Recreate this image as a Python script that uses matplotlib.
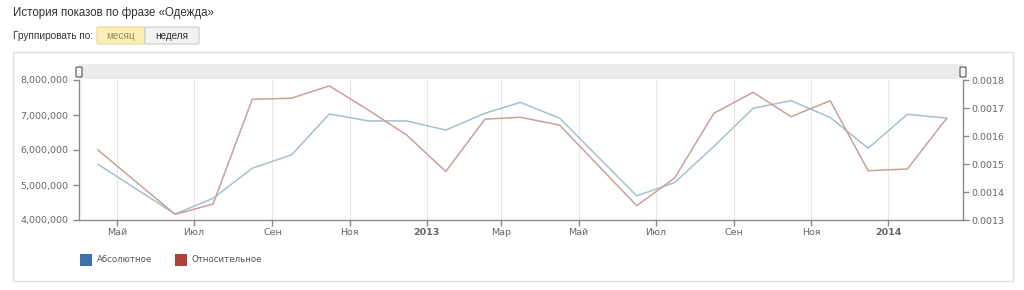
import matplotlib
matplotlib.use("Agg")
import matplotlib.pyplot as plt
from matplotlib.patches import FancyBboxPatch, Rectangle
import pandas as pd

# данные
months = ['2012-04', '2012-06', '2012-07', '2012-08', '2012-09', '2012-10',
          '2012-11', '2012-12', '2013-01', '2013-02', '2013-03', '2013-04',
          '2013-06', '2013-07', '2013-08', '2013-09', '2013-10', '2013-11',
          '2013-12', '2014-01', '2014-02']
absolute = [5.59e6, 4.17e6, 4.62e6, 5.48e6, 5.86e6, 7.03e6,
            6.83e6, 6.83e6, 6.57e6, 7.05e6, 7.36e6, 6.91e6,
            4.69e6, 5.07e6, 6.10e6, 7.19e6, 7.41e6, 6.93e6,
            6.05e6, 7.02e6, 6.91e6]
relative = [0.00155, 0.00132, 0.001357, 0.001731, 0.001735, 0.001779,
            0.001692, 0.001604, 0.001473, 0.00166, 0.001667, 0.001639,
            0.001351, 0.00145, 0.001681, 0.001756, 0.001669, 0.001726,
            0.001476, 0.001482, 0.001663]
tick_months = ['2012-05', '2012-07', '2012-09', '2012-11', '2013-01', '2013-03',
               '2013-05', '2013-07', '2013-09', '2013-11', '2014-01']
tick_labels = ['Май', 'Июл', 'Сен', 'Ноя', '2013', 'Мар',
               'Май', 'Июл', 'Сен', 'Ноя', '2014']
left_ticks = [4e6, 5e6, 6e6, 7e6, 8e6]
right_ticks = [0.0013, 0.0014, 0.0015, 0.0016, 0.0017, 0.0018]
legend_names = ['Абсолютное', 'Относительное']

x = pd.to_datetime(months) + pd.Timedelta(days=15)
ticks = pd.to_datetime(tick_months)

fig = plt.figure(figsize=(10.24, 2.9), dpi=100)
W, H = 1024, 290

def fx(px):
    return px / W

def fy(py):
    return 1 - py / H

# заголовок и кнопки
fig.text(fx(13), fy(13), 'История показов по фразе «Одежда»', fontsize=8.3,
         color='#333333', family='Liberation Sans', va='center')
fig.text(fx(13), fy(36), 'Группировать по:', fontsize=7.2,
         color='#333333', family='Liberation Sans', va='center')
fig.patches.append(FancyBboxPatch((fx(97), fy(44)), fx(48), 17 / H,
                                  boxstyle='round,pad=0,rounding_size=0.003',
                                  transform=fig.transFigure, fc='#fdefb5',
                                  ec='#e8d89a', lw=0.8))
fig.patches.append(FancyBboxPatch((fx(145), fy(44)), fx(54), 17 / H,
                                  boxstyle='round,pad=0,rounding_size=0.003',
                                  transform=fig.transFigure, fc='#f2f2f2',
                                  ec='#cccccc', lw=0.8))
fig.text(fx(121), fy(36), 'месяц', fontsize=7.2, color='#9b8a55',
         family='Liberation Sans', ha='center', va='center')
fig.text(fx(172), fy(36), 'неделя', fontsize=7.2, color='#333333',
         family='Liberation Sans', ha='center', va='center')

# рамка графика
fig.patches.append(Rectangle((fx(13), fy(281)), fx(1000), 229 / H,
                             transform=fig.transFigure, fc='white',
                             ec='#e0e0e0', lw=1.0, zorder=-5))

ax = fig.add_axes([fx(79), fy(220), fx(884), 140 / H])
ax2 = ax.twinx()

# полоса прокрутки
fig.patches.append(Rectangle((fx(79), fy(79)), fx(884), 15 / H,
                             transform=fig.transFigure, fc='#ebebeb',
                             ec='none', zorder=1))
for hx in (79, 963):
    fig.patches.append(FancyBboxPatch((fx(hx - 3), fy(77)), fx(6), 10 / H,
                                      boxstyle='round,pad=0,rounding_size=0.002',
                                      transform=fig.transFigure, fc='#f4f4f4',
                                      ec='#555555', lw=0.8, zorder=2))

for t in ticks:
    ax.axvline(t, color='#e6e6e6', lw=0.8, zorder=0)

ax.plot(x, absolute, color='#a3c1d0', lw=1.1, zorder=3)
ax2.plot(x, relative, color='#c9a19c', lw=1.1, zorder=3)

ax.set_xlim(pd.Timestamp('2012-04-01'), pd.Timestamp('2014-03-01'))
ax.set_ylim(4e6, 8e6)
ax2.set_ylim(0.0013, 0.0018)

ax.set_xticks(ticks)
ax.set_xticklabels(tick_labels)
for lab in ax.get_xticklabels():
    if lab.get_text() in ('2013', '2014'):
        lab.set_fontweight('bold')
        lab.set_color('#333333')
ax.set_yticks(left_ticks)
ax.set_yticklabels([f'{v:,.0f}' for v in left_ticks])
ax2.set_yticks(right_ticks)
ax2.set_yticklabels([f'{v:.4f}' for v in right_ticks])

for a in (ax, ax2):
    a.set_facecolor('none')
    a.spines['top'].set_visible(False)
    for s in ('left', 'right', 'bottom'):
        a.spines[s].set_color('#8a8a8a')
        a.spines[s].set_linewidth(1.0)
    a.tick_params(colors='#8a8a8a', labelcolor='#666666', labelsize=6.8,
                  length=4, width=1.0)
ax.tick_params(axis='x', pad=2)
ax2.tick_params(axis='y', pad=2)
ax.spines['right'].set_visible(False)
ax2.spines['left'].set_visible(False)
ax2.spines['bottom'].set_visible(False)

# легенда
colors = ['#3f6fae', '#b0403a']
for name, c, lx in zip(legend_names, colors, (80, 175)):
    fig.patches.append(Rectangle((fx(lx), fy(266)), fx(12), 12 / H,
                                 transform=fig.transFigure, fc=c,
                                 ec='none', zorder=2))
    fig.text(fx(lx + 17), fy(260), name, fontsize=6.2, color='#555555',
             va='center')

fig.savefig('out.png', dpi=100)
